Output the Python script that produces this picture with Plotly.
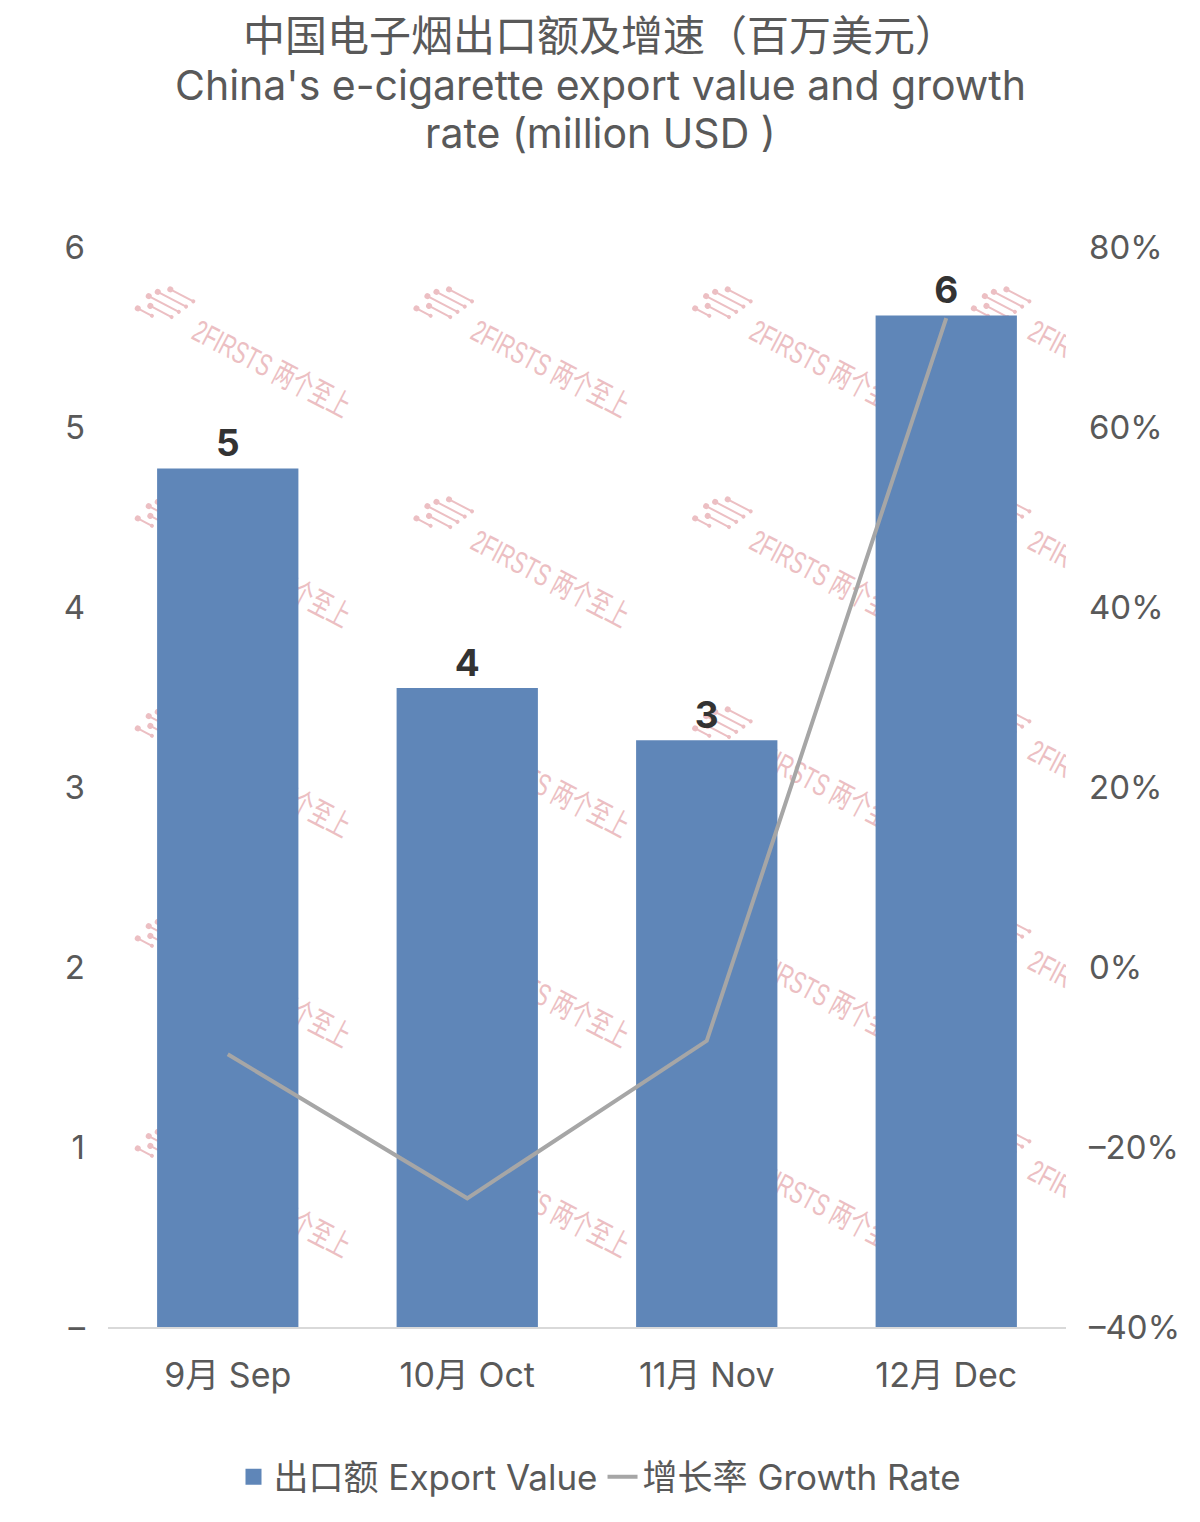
import base64
import plotly.graph_objects as go

categories = ["9月 Sep", "10月 Oct", "11月 Nov", "12月 Dec"]
export_value = [4.77, 3.55, 3.26, 5.62]
growth_rate = [-0.097, -0.257, -0.082, 0.721]
left_ticks = [0, 1, 2, 3, 4, 5, 6]
left_ticktext = ["–", "1", "2", "3", "4", "5", "6"]
right_ticks = [-0.4, -0.2, 0, 0.2, 0.4, 0.6, 0.8]
right_ticktext = ["–40%", "–20%", "0%", "20%", "40%", "60%", "80%"]
title_lines = ["中国电子烟出口额及增速（百万美元）",
               "China's e-cigarette export value and growth",
               "rate (million USD )"]

FONT = "Inter, Noto Sans CJK SC, sans-serif"
GREY = "#595959"
BAR = "#5f86b8"
OFF = 8  # page body margin

# plot area geometry in (reference) pixels
L, T, PW, PH = 108 - OFF, 247 - OFF, 958, 1080

def py(pix):
    return (T + PH - (pix - OFF)) / PH

def px(pix):
    return ((pix - OFF) - L) / PW

# watermark tile (decoration) as an SVG layer below the bars
parts = [f'<svg xmlns="http://www.w3.org/2000/svg" width="{PW}" height="{PH}" viewBox="0 0 {PW} {PH}">']
for j in range(5):
    for i in range(4):
        ox = 82 + 278.7 * i
        oy = 91 + 210 * j
        g = f'<g transform="translate({ox:.1f},{oy:.1f}) rotate(27.6)" fill="#ecbfc3" stroke="#ecbfc3">'
        for (y, x0, x1) in [(-34, -40, -14), (-26, -50, -18), (-18, -56, -22), (-10, -50, -26), (-2, -60, -44)]:
            g += f'<line x1="{x0}" y1="{y}" x2="{x1}" y2="{y}" stroke-width="2"/>'
            g += f'<circle cx="{x0}" cy="{y}" r="3" stroke="none"/>'
            g += f'<circle cx="{x1}" cy="{y}" r="2" stroke="none"/>'
        g += ('<text x="0" y="0" font-size="31" stroke="none" font-family="Liberation Sans Narrow, Liberation Sans, Noto Sans CJK SC, sans-serif" '
              'textLength="173" lengthAdjust="spacingAndGlyphs">2FIRSTS 两个至上</text>')
        g += '</g>'
        parts.append(g)
parts.append('</svg>')
svg = "".join(parts)
uri = "data:image/svg+xml;base64," + base64.b64encode(svg.encode("utf-8")).decode()

fig = go.Figure()
fig.add_bar(
    x=categories, y=export_value, name="出口额 Export Value", showlegend=False,
    marker=dict(color=BAR, line=dict(width=0)),
    texttemplate="%{y:.0f}", textposition="outside",
    textfont=dict(size=37, color="#333333", family=FONT, weight="bold"),
    cliponaxis=False,
)
# legend entry for the bars with a larger square swatch
fig.add_scatter(
    x=[None], y=[None], mode="markers", name="出口额 Export Value",
    marker=dict(symbol="square", size=22, color=BAR),
)
fig.add_scatter(
    x=categories, y=growth_rate, yaxis="y2", mode="lines",
    name="增长率 Growth Rate", line=dict(color="#a6a6a6", width=4),
)

annotations = []
for txt, cy, fs in zip(title_lines, [35, 85, 133], [42, 41, 41]):
    annotations.append(dict(text=txt, xref="paper", yref="paper", x=px(600), y=py(cy),
                            xanchor="center", yanchor="middle", showarrow=False,
                            font=dict(size=fs, color=GREY, family=FONT)))

fig.update_layout(
    width=1200, height=1522,
    paper_bgcolor="white", plot_bgcolor="rgba(0,0,0,0)",
    margin=dict(l=L, r=1200 - L - PW, t=T, b=1522 - T - PH, autoexpand=False),
    font=dict(family=FONT, color=GREY, size=32),
    bargap=0.41,
    showlegend=True,
    legend=dict(orientation="h", x=px(600), xanchor="center",
                y=py(1477), yanchor="middle", font=dict(size=35, color=GREY),
                traceorder="normal", itemsizing="trace"),
    xaxis=dict(showline=True, linecolor="#d9d9d9", linewidth=1.5, showgrid=False,
               ticks="", tickfont=dict(size=34, color=GREY), ticklabelstandoff=17,
               tickangle=0, automargin=False),
    yaxis=dict(range=[0, 6], tickvals=left_ticks, ticktext=left_ticktext, showgrid=False,
               zeroline=False, showline=False, ticks="", ticklabelstandoff=22,
               tickfont=dict(size=33, color=GREY), automargin=False),
    yaxis2=dict(range=[-0.4, 0.8], tickvals=right_ticks, ticktext=right_ticktext,
                overlaying="y", side="right", showgrid=False, zeroline=False,
                showline=False, ticks="", ticklabelstandoff=22,
                tickfont=dict(size=33, color=GREY), automargin=False),
    annotations=annotations,
    images=[dict(source=uri, xref="paper", yref="paper", x=0, y=1, sizex=1, sizey=1,
                 xanchor="left", yanchor="top", sizing="stretch", layer="below")],
)

fig.write_html("out.html")
